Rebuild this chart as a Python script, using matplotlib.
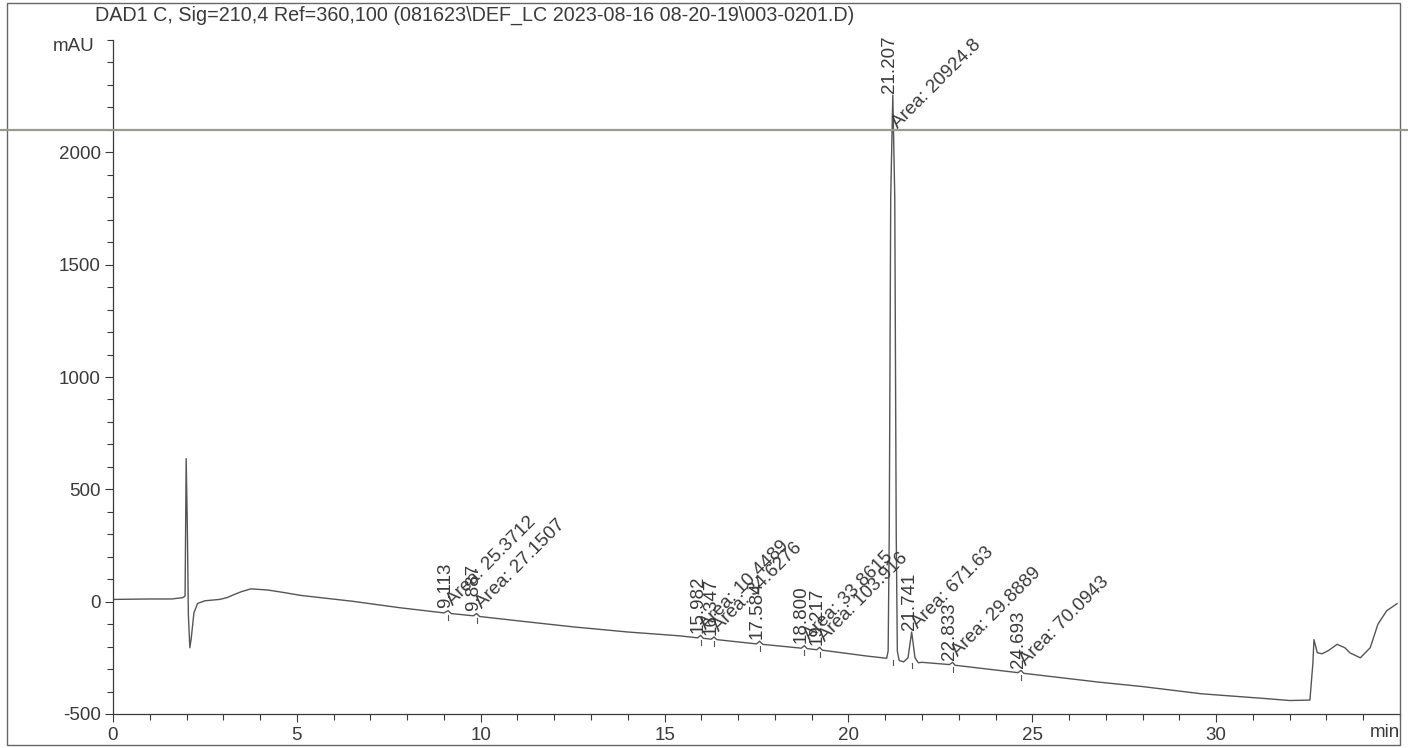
import matplotlib
matplotlib.use("Agg")
import matplotlib.pyplot as plt
from matplotlib.lines import Line2D
from matplotlib.patches import Rectangle
from matplotlib.ticker import MultipleLocator

# chromatogram trace (min, mAU)
time_min = [
    0.0, 1.0, 1.6, 1.9, 1.96, 1.99, 2.02, 2.05, 2.09, 2.13, 2.2, 2.3, 2.5,
    2.9, 3.1, 3.3, 3.5, 3.75, 4.2, 4.6, 5.1, 6.5, 7.8,
    9.0, 9.113, 9.2, 9.8, 9.887, 9.97, 11.0, 12.5, 14.0, 15.4,
    15.9, 15.982, 16.05, 16.27, 16.347, 16.42, 17.5, 17.584, 17.67,
    18.72, 18.8, 18.88, 19.14, 19.217, 19.29, 20.5, 21.04,
    21.08, 21.11, 21.15, 21.207, 21.26, 21.3, 21.33, 21.38, 21.5, 21.62,
    21.72, 21.81, 21.9, 22.0, 22.75, 22.833, 22.9, 24.61, 24.693, 24.77,
    26.8, 28.0, 29.6, 31.4, 32.0, 32.55, 32.63, 32.66, 32.75, 32.88,
    33.05, 33.29, 33.5, 33.64, 33.92, 34.19, 34.4, 34.64, 34.92,
]
signal_mau = [
    10, 12, 12, 18, 25, 637, 350, -60, -205, -160, -50, -8, 4,
    10, 18, 32, 45, 57, 52, 42, 28, 2, -27,
    -50, -40, -53, -63, -53, -66, -85, -112, -135, -152,
    -161, -150, -163, -167, -157, -169, -188, -176, -190,
    -207, -196, -209, -214, -203, -216, -242, -252,
    -220, 300, 1800, 2255, 1800, 300, -220, -262, -268, -250,
    -135, -250, -272, -270, -280, -270, -283, -316, -306, -319,
    -358, -378, -410, -432, -440, -438, -276, -169, -227, -232,
    -218, -190, -205, -228, -250, -205, -100, -40, -9,
]

# integrated peaks: retention time, apex, baseline, area text
peak_rt = [9.113, 9.887, 15.982, 16.347, 17.584, 18.800, 19.217,
           21.207, 21.741, 22.833, 24.693]
peak_apex = [-40, -53, -150, -157, -176, -196, -203, 2255, -135, -270, -306]
peak_base = [-52, -64, -162, -168, -189, -208, -215, -252, -265, -282, -318]
peak_area = ["25.3712", "27.1507", "10.4489", "34.6276", "", "33.8615",
             "103.916", "20924.8", "671.63", "29.8889", "70.0943"]

title = ("DAD1 C, Sig=210,4 Ref=360,100 "
         "(081623\\DEF_LC 2023-08-16 08-20-19\\003-0201.D)")

plt.rcParams["font.family"] = ["Liberation Sans", "DejaVu Sans"]
plt.rcParams["axes.unicode_minus"] = False
ink = "#3a3a3a"

fig = plt.figure(figsize=(14.08, 7.48), dpi=100)
ax = fig.add_axes([113 / 1408, 34 / 748, 1287 / 1408, 674 / 748])

ax.plot(time_min, signal_mau, color="#555555", lw=1.0)

for rt, top, base, area in zip(peak_rt, peak_apex, peak_base, peak_area):
    ax.plot([rt, rt], [base - 8, base - 30], color="#555555", lw=0.8)
    ax.text(rt - 0.08, top + 10, f"{rt:.3f}", rotation=90, ha="center",
            va="bottom", fontsize=13.5, color=ink)
    if area:
        ya = top + 10 - 0.07 * (top - base)
        ax.text(rt + 0.22, ya, f"Area: {area}", rotation=45,
                rotation_mode="anchor", ha="left", va="bottom",
                fontsize=13.5, color=ink)

ax.set_xlim(0, 35)
ax.set_ylim(-500, 2500)
ax.xaxis.set_minor_locator(MultipleLocator(1))
ax.yaxis.set_minor_locator(MultipleLocator(100))
ax.set_xticks([0, 5, 10, 15, 20, 25, 30])
ax.set_yticks([-500, 0, 500, 1000, 1500, 2000])
ax.tick_params(axis="both", which="major", length=6, width=0.8,
               labelsize=13.5, colors=ink, pad=3)
ax.tick_params(axis="both", which="minor", length=4, width=0.8, colors=ink)
for side in ["top", "right"]:
    ax.spines[side].set_visible(False)
for side in ["left", "bottom"]:
    ax.spines[side].set_color(ink)
    ax.spines[side].set_linewidth(0.9)

ax.text(-0.014, 0.99, "mAU", transform=ax.transAxes, ha="right",
        va="center", fontsize=13.5, color=ink)
ax.text(1.0, -0.028, "min", transform=ax.transAxes, ha="right",
        va="center", fontsize=13.5, color=ink)

fig.text(95 / 1408, 1 - 15 / 748, title, ha="left", va="center",
         fontsize=14.2, color=ink)

# page frame and the grey scan line across the sheet
fig.patches.append(Rectangle((7 / 1408, 3 / 748), 1393 / 1408, 742 / 748,
                             transform=fig.transFigure, fill=False,
                             edgecolor="#666666", lw=1.0))
fig.lines.append(Line2D([0, 1], [1 - 130 / 748, 1 - 130 / 748],
                        transform=fig.transFigure, color="#9a9a90", lw=1.6))

fig.savefig("out.png", dpi=100)
